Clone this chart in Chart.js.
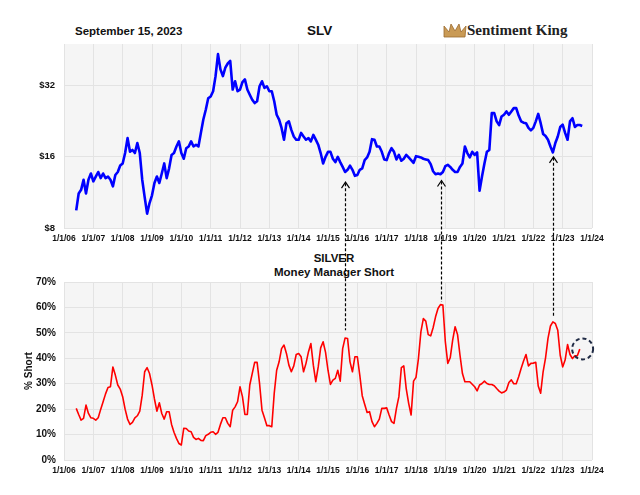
<!DOCTYPE html>
<html>
<head>
<meta charset="utf-8">
<script src="https://cdn.jsdelivr.net/npm/chart.js@4.4.0/dist/chart.umd.min.js"></script>
<style>
  body { margin: 0; background: #fff; }
  #wrap { position: relative; width: 640px; height: 495px; overflow: hidden; }
  .txt { position: absolute; font-family: "Liberation Sans", Arial, sans-serif; font-weight: bold; color: #111; white-space: nowrap; line-height: 1; }
  canvas { position: absolute; left: 0; }
</style>
</head>
<body>
<div id="wrap">
  <div class="txt" style="left:75px;top:26px;font-size:11.5px">September 15, 2023</div>
  <div class="txt" style="left:307px;top:24px;font-size:13.5px">SLV</div>
  <svg style="position:absolute;left:443px;top:23px" width="24" height="15" viewBox="0 0 24 15">
    <polygon points="1,14 22,14 23,3 18,9 16,1 12,8 8,1 6,9 1,3" fill="#c99a55" stroke="#9b6a2e" stroke-width="0.8"/>
  </svg>
  <div class="txt" style="left:467px;top:23px;font-size:15px;font-family:'Liberation Serif',serif;color:#222">Sentiment King</div>
  <div class="txt" style="left:274px;top:253px;width:120px;text-align:center;font-size:11.5px">SILVER</div>
  <div class="txt" style="left:274px;top:267px;width:120px;text-align:center;font-size:11.5px">Money Manager Short</div>
  <canvas id="top" width="640" height="215" style="top:40px"></canvas>
  <canvas id="bot" width="640" height="240" style="top:255px"></canvas>
  <canvas id="notes" width="640" height="495" style="top:0"></canvas>
</div>
<script>
// monthly samples, first one is June 2006
const firstYear = 2006;
const firstMonth = 5;

const slvPrice = [
  9.5, 11.2, 11.6, 12.8, 11.2, 12.8, 13.6,
  12.6, 13.2, 13.8, 13.0, 13.6, 13.0, 13.2, 12.8, 12.0, 13.4, 13.8, 14.7,
  15.0, 16.6, 19.2, 16.8, 17.1, 16.6, 18.3, 16.6, 12.8, 10.8, 9.2, 10.2,
  11.0, 12.4, 13.2, 12.4, 13.6, 15.0, 13.0, 14.3, 16.3, 16.6, 17.7, 18.6,
  16.6, 15.7, 17.4, 17.7, 18.6, 17.7, 18.0, 17.7, 20.2, 23.0, 25.3, 28.3,
  28.8, 30.3, 35.1, 43.5, 37.5, 35.1, 38.1, 39.7, 40.7, 30.8, 33.4, 30.3,
  30.8, 33.1, 34.0, 30.8, 29.3, 27.9, 27.0, 27.5, 31.8, 33.4, 31.3, 31.8,
  30.3, 30.3, 27.5, 24.1, 23.0, 21.2, 18.9, 22.2, 22.6, 20.8, 19.5, 18.9,
  18.9, 20.2, 19.5, 18.9, 19.2, 18.6, 19.8, 18.9, 18.0, 16.6, 15.0, 16.0,
  16.8, 16.8, 15.7, 15.2, 16.0, 15.2, 14.5, 13.8, 14.1, 14.7, 14.1, 13.3,
  13.4, 14.1, 14.3, 15.5, 15.9, 16.8, 19.0, 18.9, 17.7, 17.7, 16.8, 15.6,
  15.5, 16.6, 17.4, 16.8, 15.6, 16.3, 15.4, 15.7, 16.3, 15.9, 15.5, 15.1,
  16.1, 16.0, 15.9, 15.7, 15.6, 15.5, 14.9, 13.9, 13.5, 13.6, 13.5, 13.8,
  14.6, 14.8, 14.5, 14.1, 13.8, 13.8, 14.5, 15.0, 17.7, 16.6, 15.9, 16.8,
  16.3, 16.7, 11.5, 13.2, 15.0, 16.8, 17.1, 24.5, 24.5, 22.6, 21.8, 23.7,
  24.1, 24.9, 24.1, 24.9, 25.7, 25.7, 23.9, 22.6, 22.3, 22.2, 21.2, 20.7,
  21.2, 22.6, 24.3, 22.2, 20.0, 19.6, 18.9, 17.7, 16.7, 18.3, 19.5, 21.4,
  21.9, 20.2, 18.9, 22.6, 23.3, 21.4, 21.8, 21.8, 21.6
];

const pctShort = [
  20.3, 17.9, 15.7, 16.4, 21.6, 18.3, 16.6,
  16.4, 15.7, 16.6, 19.9, 22.9, 26.0, 28.5, 28.8, 36.6, 33.4, 29.5, 27.9,
  24.9, 20.0, 16.1, 14.0, 14.8, 16.6, 17.4, 19.2, 25.5, 34.7, 36.3, 34.0,
  29.5, 24.0, 19.2, 22.5, 18.3, 16.1, 19.0, 19.0, 14.0, 10.9, 8.5, 6.5,
  5.9, 12.5, 12.4, 11.4, 11.1, 8.9, 8.1, 8.5, 7.7, 7.6, 9.6, 10.1,
  10.9, 11.1, 10.1, 10.9, 14.0, 16.6, 16.6, 14.4, 13.1, 19.6, 20.9, 22.9,
  28.8, 24.9, 17.9, 17.9, 29.5, 34.0, 38.4, 38.4, 30.1, 19.6, 16.6, 13.5,
  13.5, 13.1, 26.2, 35.3, 38.6, 43.8, 45.2, 41.9, 37.3, 34.7, 37.0, 41.5,
  41.9, 40.6, 34.7, 38.0, 42.5, 45.8, 37.3, 30.8, 36.6, 44.1, 46.5, 42.3,
  35.3, 29.7, 31.4, 32.1, 35.3, 31.0, 43.8, 48.0, 47.8, 38.6, 34.7, 40.6,
  40.6, 33.4, 25.3, 21.9, 18.7, 19.0, 15.1, 13.1, 14.4, 16.1, 20.3, 20.3,
  20.5, 17.7, 15.1, 14.4, 20.3, 24.9, 36.3, 37.0, 28.1, 22.3, 17.7, 31.0,
  32.5, 39.9, 50.4, 55.6, 54.6, 49.3, 48.8, 52.0, 56.3, 59.6, 61.1, 60.9,
  46.5, 38.0, 40.2, 47.1, 52.4, 49.3, 41.2, 34.0, 30.8, 30.8, 30.8, 29.8,
  28.8, 27.2, 29.5, 30.1, 31.0, 30.1, 29.7, 29.7, 29.2, 28.1, 27.1, 26.4,
  26.7, 27.5, 30.5, 31.5, 30.0, 30.0, 32.7, 36.0, 38.9, 41.5, 37.0, 38.0,
  38.1, 38.4, 29.1, 26.3, 34.7, 40.2, 47.8, 52.7, 54.3, 53.7, 51.0, 41.2,
  36.6, 39.3, 45.4, 41.5, 39.9, 41.0, 41.0, 43.6
];

const priceTicks = [8, 16, 32];
const yearTicks = [2006, 2007, 2008, 2009, 2010, 2011, 2012, 2013, 2014, 2015,
                   2016, 2017, 2018, 2019, 2020, 2021, 2022, 2023, 2024];

// arrows: date, tip on the SLV chart, end on the short chart
const arrowDates = [2015.59, 2018.84, 2022.66];
const arrowPriceTips = [12.5, 12.7, 16.0];
const arrowShortEnds = [51, 62.2, 56.1];
const circleDate = 2023.68;
const circleValue = 43.7;

function toPoints(vals) {
  return vals.map((v, i) => ({ x: firstYear + (firstMonth + i) / 12, y: v }));
}

const tickFont = { family: "'Liberation Sans', Arial, sans-serif", weight: 'bold' };
const gridColor = '#e3e3e3';

const plotBg = {
  id: 'plotBg',
  beforeDraw(chart) {
    const a = chart.chartArea;
    chart.ctx.save();
    chart.ctx.fillStyle = '#f5f5f5';
    chart.ctx.fillRect(a.left, a.top, a.right - a.left, a.bottom - a.top);
    chart.ctx.restore();
  }
};

function noPad(s) {
  s.paddingTop = 0; s.paddingBottom = 0; s.paddingLeft = 0; s.paddingRight = 0;
}

function xAxis(height) {
  return {
    type: 'linear', min: 2006, max: 2024,
    afterBuildTicks: s => { s.ticks = yearTicks.map(v => ({ value: v })); },
    afterFit: s => { s.height = height; noPad(s); },
    grid: { color: gridColor, drawTicks: false },
    border: { display: false },
    ticks: {
      padding: 6, color: '#111', maxRotation: 0, autoSkip: false,
      font: Object.assign({ size: 8.5 }, tickFont),
      callback: v => '1/1/' + String(v % 100).padStart(2, '0')
    }
  };
}

const topChart = new Chart('top', {
  type: 'line',
  data: { datasets: [{ data: toPoints(slvPrice), borderColor: '#0000ff', borderWidth: 2.6, borderJoinStyle: 'round', pointRadius: 0, tension: 0 }] },
  options: {
    responsive: false, animation: false, devicePixelRatio: 1,
    layout: { padding: { left: 0, right: 48, top: 4, bottom: 0 } },
    plugins: { legend: { display: false }, tooltip: { enabled: false } },
    scales: {
      x: xAxis(27),
      y: {
        type: 'logarithmic', min: 8, max: 48,
        afterBuildTicks: s => { s.ticks = priceTicks.map(v => ({ value: v })); },
        afterFit: s => { s.width = 64; noPad(s); },
        grid: { color: gridColor, drawTicks: false },
        border: { display: false },
        ticks: { padding: 9, color: '#111', font: Object.assign({ size: 9.5 }, tickFont), callback: v => '$' + v }
      }
    }
  },
  plugins: [plotBg]
});

const botChart = new Chart('bot', {
  type: 'line',
  data: { datasets: [{ data: toPoints(pctShort), borderColor: '#ff0000', borderWidth: 1.6, borderJoinStyle: 'round', pointRadius: 0, tension: 0 }] },
  options: {
    responsive: false, animation: false, devicePixelRatio: 1,
    layout: { padding: { left: 0, right: 48, top: 27, bottom: 0 } },
    plugins: { legend: { display: false }, tooltip: { enabled: false } },
    scales: {
      x: xAxis(35),
      y: {
        min: 0, max: 70,
        afterFit: s => { s.width = 64; noPad(s); },
        grid: { color: gridColor, drawTicks: false },
        border: { display: false },
        title: { display: true, text: '% Short', color: '#111', padding: { top: 23, bottom: 0 }, font: Object.assign({ size: 10 }, tickFont) },
        ticks: { stepSize: 10, padding: 8, color: '#111', font: Object.assign({ size: 10 }, tickFont), callback: v => v + '%' }
      }
    }
  },
  plugins: [plotBg]
});

// dashed arrows and the circle, placed through the charts' own scales
(function drawNotes() {
  const ctx = document.getElementById('notes').getContext('2d');
  const topOff = 40, botOff = 255;
  ctx.strokeStyle = '#000';
  ctx.lineWidth = 1.2;
  arrowDates.forEach((d, i) => {
    const x = Math.round(topChart.scales.x.getPixelForValue(d)) + 0.5;
    const y1 = topOff + topChart.scales.y.getPixelForValue(arrowPriceTips[i]);
    const y2 = botOff + botChart.scales.y.getPixelForValue(arrowShortEnds[i]);
    ctx.setLineDash([3, 2]);
    ctx.beginPath(); ctx.moveTo(x, y1 + 1); ctx.lineTo(x, y2); ctx.stroke();
    ctx.setLineDash([]);
    ctx.beginPath(); ctx.moveTo(x - 4, y1 + 6); ctx.lineTo(x, y1); ctx.lineTo(x + 4, y1 + 6); ctx.stroke();
  });
  const cx = botChart.scales.x.getPixelForValue(circleDate);
  const cy = botOff + botChart.scales.y.getPixelForValue(circleValue);
  ctx.strokeStyle = '#1f2a44';
  ctx.lineWidth = 2;
  ctx.setLineDash([4, 3]);
  ctx.beginPath(); ctx.arc(cx, cy, 10.5, 0, Math.PI * 2); ctx.stroke();
})();
</script>
</body>
</html>
